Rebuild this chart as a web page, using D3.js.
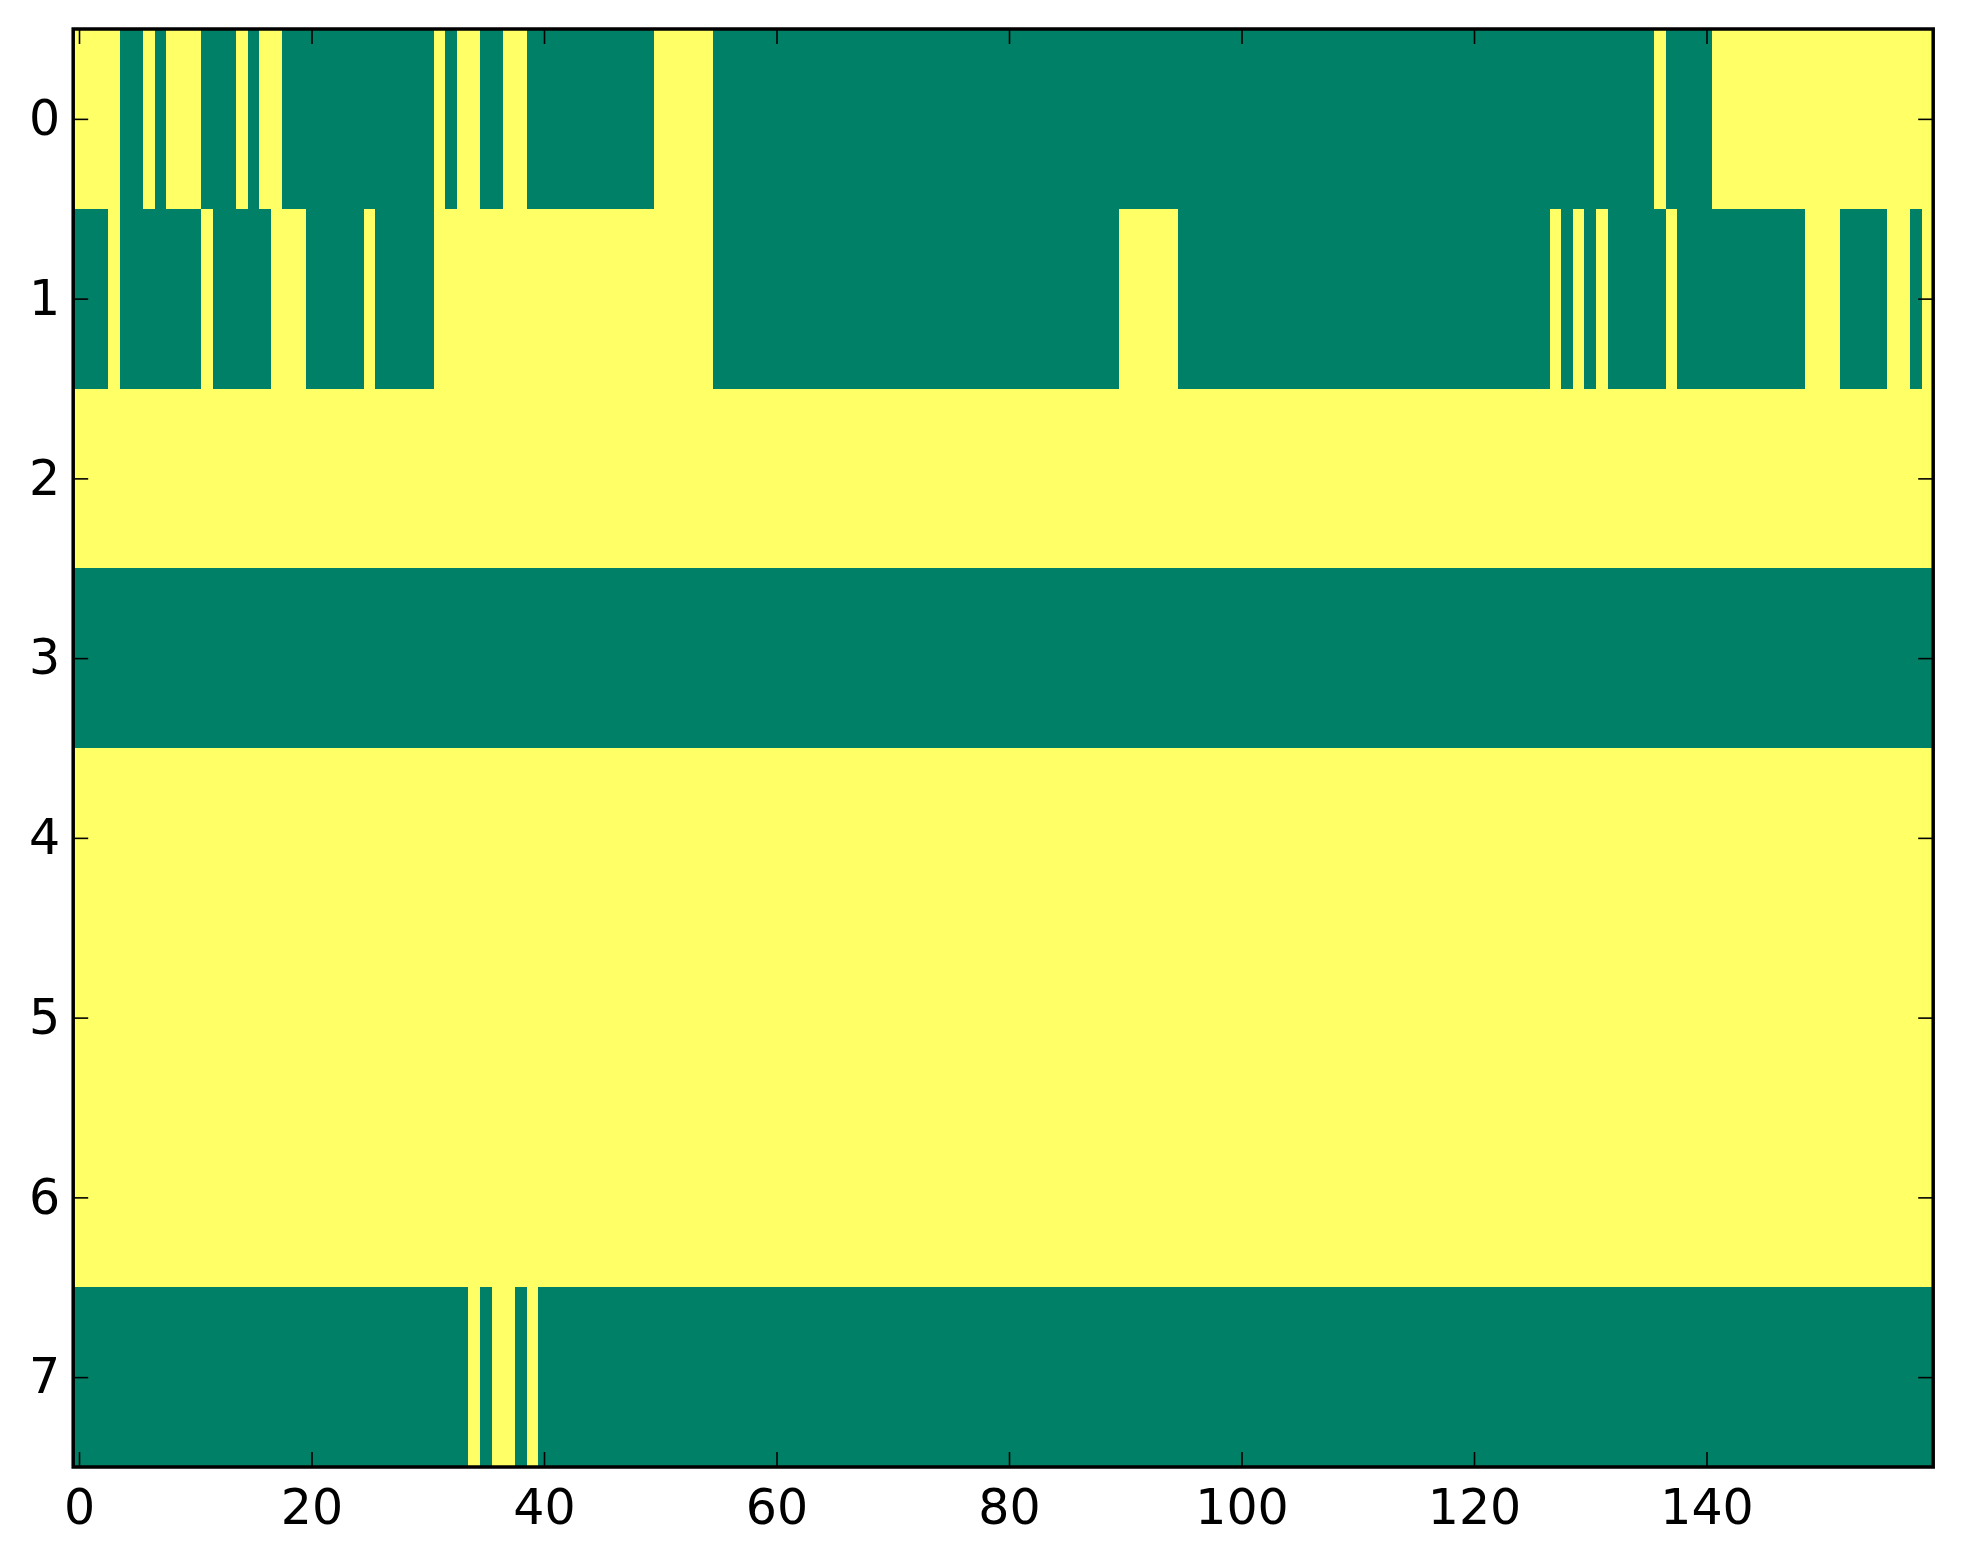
<!DOCTYPE html>
<html lang="en">
<head>
    <meta charset="UTF-8">
    <title>Binary heatmap</title>
    <style>
        body {
            margin: 0;
            background: #fff;
        }
        svg {
            display: block;
        }
        .tick text {
            font-family: "DejaVu Sans", sans-serif;
            font-size: 49px;
            fill: #000;
        }
        .tick line {
            stroke: #000;
            stroke-width: 1.6px;
        }
    </style>
</head>
<body>
    <svg width="1963" height="1564"></svg>
    <script src="https://d3js.org/d3.v7.min.js"></script>
    <script>

// one array per row, 160 columns each (1 = yellow, 0 = green)
const row0 = [
    1,1,1,1,0,0,1,0,1,1, 1,0,0,0,1,0,1,1,0,0,
    0,0,0,0,0,0,0,0,0,0, 0,1,0,1,1,0,0,1,1,0,
    0,0,0,0,0,0,0,0,0,0, 1,1,1,1,1,0,0,0,0,0,
    0,0,0,0,0,0,0,0,0,0, 0,0,0,0,0,0,0,0,0,0,
    0,0,0,0,0,0,0,0,0,0, 0,0,0,0,0,0,0,0,0,0,
    0,0,0,0,0,0,0,0,0,0, 0,0,0,0,0,0,0,0,0,0,
    0,0,0,0,0,0,0,0,0,0, 0,0,0,0,0,0,1,0,0,0,
    0,1,1,1,1,1,1,1,1,1, 1,1,1,1,1,1,1,1,1,1
];
const row1 = [
    0,0,0,1,0,0,0,0,0,0, 0,1,0,0,0,0,0,1,1,1,
    0,0,0,0,0,1,0,0,0,0, 0,1,1,1,1,1,1,1,1,1,
    1,1,1,1,1,1,1,1,1,1, 1,1,1,1,1,0,0,0,0,0,
    0,0,0,0,0,0,0,0,0,0, 0,0,0,0,0,0,0,0,0,0,
    0,0,0,0,0,0,0,0,0,0, 1,1,1,1,1,0,0,0,0,0,
    0,0,0,0,0,0,0,0,0,0, 0,0,0,0,0,0,0,0,0,0,
    0,0,0,0,0,0,0,1,0,1, 0,1,0,0,0,0,0,1,0,0,
    0,0,0,0,0,0,0,0,0,1, 1,1,0,0,0,0,1,1,0,1
];
const row2 = [
    1,1,1,1,1,1,1,1,1,1, 1,1,1,1,1,1,1,1,1,1,
    1,1,1,1,1,1,1,1,1,1, 1,1,1,1,1,1,1,1,1,1,
    1,1,1,1,1,1,1,1,1,1, 1,1,1,1,1,1,1,1,1,1,
    1,1,1,1,1,1,1,1,1,1, 1,1,1,1,1,1,1,1,1,1,
    1,1,1,1,1,1,1,1,1,1, 1,1,1,1,1,1,1,1,1,1,
    1,1,1,1,1,1,1,1,1,1, 1,1,1,1,1,1,1,1,1,1,
    1,1,1,1,1,1,1,1,1,1, 1,1,1,1,1,1,1,1,1,1,
    1,1,1,1,1,1,1,1,1,1, 1,1,1,1,1,1,1,1,1,1
];
const row3 = [
    0,0,0,0,0,0,0,0,0,0, 0,0,0,0,0,0,0,0,0,0,
    0,0,0,0,0,0,0,0,0,0, 0,0,0,0,0,0,0,0,0,0,
    0,0,0,0,0,0,0,0,0,0, 0,0,0,0,0,0,0,0,0,0,
    0,0,0,0,0,0,0,0,0,0, 0,0,0,0,0,0,0,0,0,0,
    0,0,0,0,0,0,0,0,0,0, 0,0,0,0,0,0,0,0,0,0,
    0,0,0,0,0,0,0,0,0,0, 0,0,0,0,0,0,0,0,0,0,
    0,0,0,0,0,0,0,0,0,0, 0,0,0,0,0,0,0,0,0,0,
    0,0,0,0,0,0,0,0,0,0, 0,0,0,0,0,0,0,0,0,0
];
const row4 = [
    1,1,1,1,1,1,1,1,1,1, 1,1,1,1,1,1,1,1,1,1,
    1,1,1,1,1,1,1,1,1,1, 1,1,1,1,1,1,1,1,1,1,
    1,1,1,1,1,1,1,1,1,1, 1,1,1,1,1,1,1,1,1,1,
    1,1,1,1,1,1,1,1,1,1, 1,1,1,1,1,1,1,1,1,1,
    1,1,1,1,1,1,1,1,1,1, 1,1,1,1,1,1,1,1,1,1,
    1,1,1,1,1,1,1,1,1,1, 1,1,1,1,1,1,1,1,1,1,
    1,1,1,1,1,1,1,1,1,1, 1,1,1,1,1,1,1,1,1,1,
    1,1,1,1,1,1,1,1,1,1, 1,1,1,1,1,1,1,1,1,1
];
const row5 = [
    1,1,1,1,1,1,1,1,1,1, 1,1,1,1,1,1,1,1,1,1,
    1,1,1,1,1,1,1,1,1,1, 1,1,1,1,1,1,1,1,1,1,
    1,1,1,1,1,1,1,1,1,1, 1,1,1,1,1,1,1,1,1,1,
    1,1,1,1,1,1,1,1,1,1, 1,1,1,1,1,1,1,1,1,1,
    1,1,1,1,1,1,1,1,1,1, 1,1,1,1,1,1,1,1,1,1,
    1,1,1,1,1,1,1,1,1,1, 1,1,1,1,1,1,1,1,1,1,
    1,1,1,1,1,1,1,1,1,1, 1,1,1,1,1,1,1,1,1,1,
    1,1,1,1,1,1,1,1,1,1, 1,1,1,1,1,1,1,1,1,1
];
const row6 = [
    1,1,1,1,1,1,1,1,1,1, 1,1,1,1,1,1,1,1,1,1,
    1,1,1,1,1,1,1,1,1,1, 1,1,1,1,1,1,1,1,1,1,
    1,1,1,1,1,1,1,1,1,1, 1,1,1,1,1,1,1,1,1,1,
    1,1,1,1,1,1,1,1,1,1, 1,1,1,1,1,1,1,1,1,1,
    1,1,1,1,1,1,1,1,1,1, 1,1,1,1,1,1,1,1,1,1,
    1,1,1,1,1,1,1,1,1,1, 1,1,1,1,1,1,1,1,1,1,
    1,1,1,1,1,1,1,1,1,1, 1,1,1,1,1,1,1,1,1,1,
    1,1,1,1,1,1,1,1,1,1, 1,1,1,1,1,1,1,1,1,1
];
const row7 = [
    0,0,0,0,0,0,0,0,0,0, 0,0,0,0,0,0,0,0,0,0,
    0,0,0,0,0,0,0,0,0,0, 0,0,0,0,1,0,1,1,0,1,
    0,0,0,0,0,0,0,0,0,0, 0,0,0,0,0,0,0,0,0,0,
    0,0,0,0,0,0,0,0,0,0, 0,0,0,0,0,0,0,0,0,0,
    0,0,0,0,0,0,0,0,0,0, 0,0,0,0,0,0,0,0,0,0,
    0,0,0,0,0,0,0,0,0,0, 0,0,0,0,0,0,0,0,0,0,
    0,0,0,0,0,0,0,0,0,0, 0,0,0,0,0,0,0,0,0,0,
    0,0,0,0,0,0,0,0,0,0, 0,0,0,0,0,0,0,0,0,0
];

const rows = [row0, row1, row2, row3, row4, row5, row6, row7];
const xTicks = [0, 20, 40, 60, 80, 100, 120, 140];
const yTicks = [0, 1, 2, 3, 4, 5, 6, 7];

// plot box
const plotLeft = 73.2, plotRight = 1933.2, plotTop = 29, plotBottom = 1467;
const nCols = row0.length;

const svg = d3.select("svg");

const x = d3.scaleLinear().domain([-0.5, nCols - 0.5]).range([plotLeft, plotRight]);
const y = d3.scaleLinear().domain([-0.5, rows.length - 0.5]).range([plotTop, plotBottom]);
const color = d3.scaleOrdinal().domain([0, 1]).range(["#008066", "#ffff66"]);

// flatten into cells
const cells = [];
rows.forEach((r, ri) => r.forEach((v, ci) => cells.push({ row: ri, col: ci, v: v })));

svg.append("g")
    .selectAll("rect")
    .data(cells)
    .enter().append("rect")
    .attr("x", d => x(d.col - 0.5))
    .attr("y", d => y(d.row - 0.5))
    .attr("width", d => x(d.col + 0.5) - x(d.col - 0.5))
    .attr("height", d => y(d.row + 0.5) - y(d.row - 0.5))
    .attr("fill", d => color(d.v))
    .attr("shape-rendering", "crispEdges");

// ticks point inwards on all four sides
const tickLen = 15;

svg.append("g")
    .attr("transform", `translate(0,${plotBottom})`)
    .call(d3.axisBottom(x).tickValues(xTicks).tickSize(-tickLen).tickPadding(22));

svg.append("g")
    .attr("transform", `translate(0,${plotTop})`)
    .call(d3.axisTop(x).tickValues(xTicks).tickSize(-tickLen).tickFormat(""));

svg.append("g")
    .attr("transform", `translate(${plotLeft},0)`)
    .call(d3.axisLeft(y).tickValues(yTicks).tickSize(-tickLen).tickPadding(13));

svg.append("g")
    .attr("transform", `translate(${plotRight},0)`)
    .call(d3.axisRight(y).tickValues(yTicks).tickSize(-tickLen).tickFormat(""));

svg.selectAll(".domain").remove();
svg.selectAll(".tick text").attr("font-family", null).attr("font-size", null);

// frame
svg.append("rect")
    .attr("x", plotLeft)
    .attr("y", plotTop)
    .attr("width", plotRight - plotLeft)
    .attr("height", plotBottom - plotTop)
    .attr("fill", "none")
    .attr("stroke", "#000")
    .attr("stroke-width", 3.5);

    </script>
</body>
</html>
